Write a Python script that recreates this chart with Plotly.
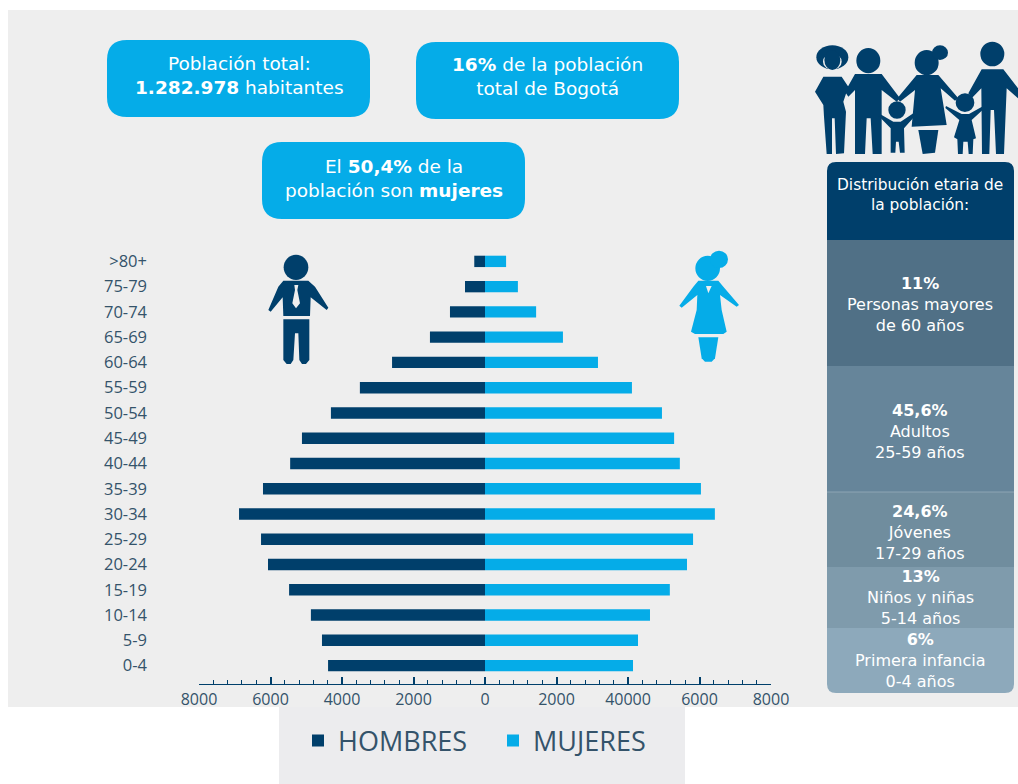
import plotly.graph_objects as go

# Población de la localidad por grupo de edad (de menor a mayor edad)
edades = ["0-4", "5-9", "10-14", "15-19", "20-24", "25-29", "30-34", "35-39", "40-44",
          "45-49", "50-54", "55-59", "60-64", "65-69", "70-74", "75-79", ">80+"]
hombres = [4390, 4560, 4870, 5480, 6070, 6265, 6880, 6210, 5450,
           5120, 4310, 3500, 2600, 1540, 980, 560, 300]
mujeres = [4140, 4280, 4615, 5170, 5650, 5820, 6430, 6040, 5450,
           5290, 4950, 4110, 3160, 2180, 1430, 920, 590]

eje_valores = [-8000, -6000, -4000, -2000, 0, 2000, 4000, 6000, 8000]
eje_textos = ["8000", "6000", "4000", "2000", "0", "2000", "40000", "6000", "8000"]

OSCURO = "#003f6b"
CLARO = "#05ace8"
FONDO = "#eeeeee"
TEXTO = "#34536a"
FUENTE = "Open Sans"
FUENTE_RECUADROS = "DejaVu Sans"
W, H = 1018, 784


def px(x):
    return x / W


def py(y):
    return 1 - y / H


def rect(x0, y0, x1, y1, color):
    return dict(type="rect", xref="paper", yref="paper", layer="below",
                x0=px(x0), x1=px(x1), y0=py(y0), y1=py(y1),
                fillcolor=color, line_width=0)


def redondeado(x0, y0, x1, y1, r, color, arriba=True, abajo=True):
    """Rectángulo con esquinas curvas, expresado en píxeles de la página."""
    rt = r if arriba else 0
    rb = r if abajo else 0
    P = lambda x, y: f"{px(x)},{py(y)}"
    d = (f"M{P(x0 + rt, y0)} L{P(x1 - rt, y0)} Q{P(x1, y0)} {P(x1, y0 + rt)} "
         f"L{P(x1, y1 - rb)} Q{P(x1, y1)} {P(x1 - rb, y1)} "
         f"L{P(x0 + rb, y1)} Q{P(x0, y1)} {P(x0, y1 - rb)} "
         f"L{P(x0, y0 + rt)} Q{P(x0, y0)} {P(x0 + rt, y0)} Z")
    return dict(type="path", xref="paper", yref="paper", layer="below", path=d,
                fillcolor=color, line_width=0)


def silueta(puntos, ox, oy, esc, color):
    d = "M" + " L".join(f"{px(ox + a * esc)},{py(oy + b * esc)}" for a, b in puntos) + " Z"
    return dict(type="path", xref="paper", yref="paper", layer="above", path=d,
                fillcolor=color, line_width=0)


def cabeza(cx, cy, rx, ry, ox, oy, esc, color):
    return dict(type="circle", xref="paper", yref="paper", layer="above",
                x0=px(ox + (cx - rx) * esc), x1=px(ox + (cx + rx) * esc),
                y0=py(oy + (cy - ry) * esc), y1=py(oy + (cy + ry) * esc),
                fillcolor=color, line_width=0)


def hombre_icono(ox, oy, esc, c):
    return [
        cabeza(168, 82, 37, 38, ox, oy, esc, c),
        silueta([(130, 122), (205, 122), (225, 140), (265, 203), (260, 210), (212, 172), (210, 228),
                 (130, 228), (128, 172), (92, 215), (85, 210), (115, 140)], ox, oy, esc, c),
        silueta([(163, 135), (175, 135), (172, 150), (180, 190), (168, 205), (157, 190), (165, 150)],
                ox, oy, esc, FONDO),
        silueta([(130, 238), (208, 238), (208, 360), (198, 372), (186, 372), (178, 360), (175, 280), (165, 280),
                 (160, 360), (152, 372), (140, 372), (130, 360)], ox, oy, esc, c),
    ]


def mujer_icono(ox, oy, esc, c):
    return [
        cabeza(1403, 85, 37, 38, ox, oy, esc, c),
        cabeza(1437, 58, 27, 26, ox, oy, esc, c),
        silueta([(1375, 122), (1435, 122), (1450, 140), (1497, 195), (1490, 200), (1440, 165), (1445, 210),
                 (1460, 275), (1450, 282), (1365, 282), (1353, 275), (1370, 210), (1372, 165), (1325, 203),
                 (1318, 197), (1360, 140)], ox, oy, esc, c),
        silueta([(1398, 138), (1415, 138), (1405, 160)], ox, oy, esc, FONDO),
        silueta([(1375, 292), (1435, 292), (1425, 355), (1415, 365), (1395, 365), (1385, 355)], ox, oy, esc, c),
    ]


def familia(c):
    ox, oy, e = 800, 30, 1 / 3
    formas = [
        # madre de la izquierda
        cabeza(97, 82, 48, 36, ox, oy, e, c),
        cabeza(97, 95, 28, 24, ox, oy, e, FONDO),
        cabeza(97, 90, 24, 30, ox, oy, e, c),
        silueta([(70, 140), (125, 140), (145, 170), (130, 215), (138, 245), (132, 370), (108, 372), (104, 265),
                 (96, 265), (96, 372), (80, 372), (72, 260), (70, 225), (45, 185)], ox, oy, e, c),
        # padre
        cabeza(205, 92, 36, 38, ox, oy, e, c),
        silueta([(165, 132), (245, 132), (300, 205), (290, 215), (245, 180), (245, 372), (218, 372), (212, 265),
                 (200, 265), (195, 372), (165, 372), (165, 180), (145, 200), (135, 185)], ox, oy, e, c),
        # niño
        cabeza(291, 240, 26, 26, ox, oy, e, c),
        silueta([(240, 252), (280, 275), (302, 275), (340, 250), (345, 258), (312, 295), (314, 368), (300, 368),
                 (296, 335), (288, 335), (286, 368), (272, 368), (272, 295), (236, 258)], ox, oy, e, c),
        # madre central
        cabeza(380, 98, 36, 38, ox, oy, e, c),
        cabeza(420, 68, 24, 22, ox, oy, e, c),
        silueta([(350, 135), (415, 135), (475, 205), (465, 212), (422, 175), (440, 285), (335, 290), (345, 180),
                 (300, 215), (292, 205)], ox, oy, e, c),
        silueta([(355, 300), (415, 300), (405, 368), (368, 372)], ox, oy, e, c),
        # niña
        cabeza(495, 218, 28, 28, ox, oy, e, c),
        silueta([(438, 228), (485, 252), (507, 252), (550, 228), (552, 236), (515, 270), (528, 325), (520, 328),
                 (518, 372), (506, 372), (503, 335), (490, 335), (488, 372), (474, 372), (472, 328), (462, 322),
                 (478, 270), (436, 234)], ox, oy, e, c),
        # padre de la derecha
        cabeza(577, 72, 36, 37, ox, oy, e, c),
        silueta([(545, 118), (610, 118), (654, 175), (654, 205), (620, 175), (612, 372), (588, 372), (582, 240),
                 (572, 240), (568, 372), (546, 372), (544, 175), (515, 205), (505, 190)], ox, oy, e, c),
    ]
    return formas


formas = [
    rect(8, 10, W, 707, FONDO),
    rect(279, 707, 685, 784, "#ececee"),
    # recuadros de titulares
    redondeado(107, 40, 370, 117, 20, CLARO),
    redondeado(416, 42, 679, 119, 20, CLARO),
    redondeado(262, 142, 525, 219, 20, CLARO),
    # columna de distribución etaria
    redondeado(827, 240, 1014, 693, 9, "#8da9bb", arriba=False),
    rect(827, 240, 1014, 366, "#507086"),
    rect(827, 366, 1014, 492, "#66859a"),
    rect(827, 492, 1014, 567, "#708d9e"),
    rect(827, 567, 1014, 628, "#7f9bac"),
    redondeado(827, 162, 1014, 240, 9, OSCURO, abajo=False),
]
formas += hombre_icono(240, 240, 1 / 3, OSCURO)
formas += mujer_icono(240, 240, 1 / 3, CLARO)
formas += familia(OSCURO)

# Línea fina entre los tramos de adultos y jóvenes
formas.append(dict(type="line", xref="paper", yref="paper", layer="below",
                   x0=px(827), x1=px(1014), y0=py(492), y1=py(492),
                   line=dict(color="#8da5b4", width=1)))


def nota(x, y, texto, size, color="white"):
    return dict(xref="paper", yref="paper", x=px(x), y=py(y), text=texto, showarrow=False,
                xanchor="center", yanchor="middle", align="center",
                font=dict(family=FUENTE_RECUADROS, size=size, color=color))


notas = [
    nota(239, 75, "Población total:<br><b>1.282.978</b> habitantes", 18.5),
    nota(547, 77, "<b>16%</b> de la población<br>total de Bogotá", 18.5),
    nota(394, 178, "El <b>50,4%</b> de la<br>población son <b>mujeres</b>", 18.5),
    nota(920, 195, "Distribución etaria de<br>la población:", 15.4),
    nota(920, 304, "<b>11%</b><br>Personas mayores<br>de 60 años", 16),
    nota(920, 431, "<b>45,6%</b><br>Adultos<br>25-59 años", 16),
    nota(920, 532, "<b>24,6%</b><br>Jóvenes<br>17-29 años", 16),
    nota(920, 597, "<b>13%</b><br>Niños y niñas<br>5-14 años", 16),
    nota(920, 660, "<b>6%</b><br>Primera infancia<br>0-4 años", 16),
]

fig = go.Figure()
fig.add_trace(go.Bar(y=edades, x=[-v for v in hombres], name="HOMBRES", orientation="h",
                     marker=dict(color=OSCURO, line_width=0), customdata=hombres,
                     hovertemplate="%{y}: %{customdata}<extra>HOMBRES</extra>"))
fig.add_trace(go.Bar(y=edades, x=mujeres, name="MUJERES", orientation="h",
                     marker=dict(color=CLARO, line_width=0),
                     hovertemplate="%{y}: %{x}<extra>MUJERES</extra>"))

fig.update_layout(
    width=W, height=H,
    margin=dict(l=0, r=0, t=0, b=0, autoexpand=False),
    paper_bgcolor="white",
    plot_bgcolor="rgba(0,0,0,0)",
    barmode="relative",
    bargap=0.55,
    shapes=formas,
    annotations=notas,
    showlegend=True,
    legend=dict(orientation="h", x=px(298), y=py(741), xanchor="left", yanchor="middle",
                bgcolor="rgba(0,0,0,0)", itemwidth=30, entrywidth=150, entrywidthmode="pixels",
                font=dict(family=FUENTE, size=27, color=TEXTO), itemclick=False, itemdoubleclick=False),
    xaxis=dict(domain=[px(199), px(771)], range=[-8000, 8000], tickvals=eje_valores, ticktext=eje_textos,
               ticks="inside", ticklen=7, tickwidth=1.5, tickcolor=OSCURO,
               minor=dict(ticks="inside", ticklen=4, dtick=400, tick0=0, tickcolor=OSCURO, tickwidth=1),
               showline=True, linecolor=OSCURO, linewidth=1, showgrid=False, zeroline=False,
               ticklabelstandoff=1, anchor="y",
               tickfont=dict(family=FUENTE, size=16, color=TEXTO)),
    yaxis=dict(domain=[py(684), py(248)], range=[-0.73, 16.53], type="category",
               categoryorder="array", categoryarray=edades,
               anchor="free", position=px(147), side="left",
               showline=False, showgrid=False, zeroline=False, ticks="",
               tickfont=dict(family=FUENTE, size=16.5, color=TEXTO)),
)

fig.write_html("out.html")
